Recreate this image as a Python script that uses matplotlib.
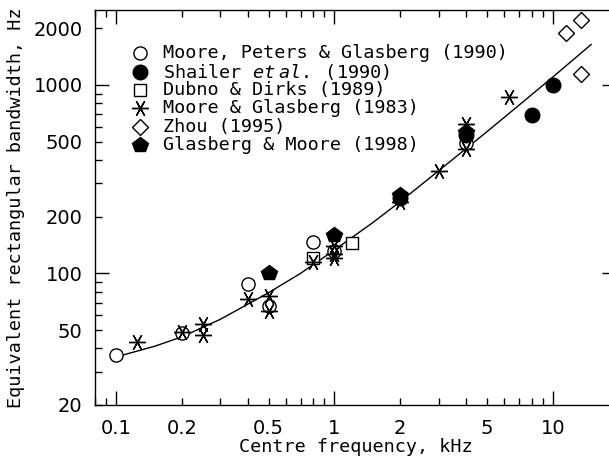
#!/usr/bin/env python3

import matplotlib
matplotlib.use('Agg')
import matplotlib.pyplot as plt
import matplotlib.ticker as mtick

# Equivalent rectangular bandwidth of the auditory filter vs centre frequency.
# Values (kHz, Hz).

mpg_f   = [0.1, 0.2, 0.4, 0.5, 0.8, 1.0, 4.0]          # Moore, Peters & Glasberg (1990)
mpg_erb = [37, 48, 88, 67, 147, 132, 490]

shl_f   = [2.0, 4.0, 8.0, 10.0]                        # Shailer et al. (1990)
shl_erb = [250, 540, 690, 1000]

dd_f    = [0.8, 1.2]                                   # Dubno & Dirks (1989)
dd_erb  = [121, 145]

mg_f    = [0.125, 0.2, 0.25, 0.25, 0.4, 0.5, 0.5, 0.8, 1.0, 1.0, 1.0, 2.0, 3.0, 4.0, 4.0, 6.3]
mg_erb  = [43, 49, 54, 47, 73, 76, 63, 115, 140, 127, 121, 240, 350, 620, 455, 860]

zh_f    = [11.5, 13.5, 13.5]                           # Zhou (1995)
zh_erb  = [1880, 2200, 1150]

gm_f    = [0.5, 1.0, 2.0, 4.0]                         # Glasberg & Moore (1998)
gm_erb  = [101, 160, 260, 560]

# fitted curve, read at a few frequencies
fit_f   = [0.1, 0.15, 0.2, 0.3, 0.5, 0.7, 1.0, 1.5, 2.0, 3.0, 5.0, 7.0, 10.0, 15.0]
fit_erb = [36, 41, 46, 57, 79, 100, 133, 186, 240, 350, 565, 780, 1100, 1640]

labels = [
    'Moore, Peters & Glasberg (1990)',
    r'Shailer $\mathit{et\ al.}$ (1990)',
    'Dubno & Dirks (1989)',
    'Moore & Glasberg (1983)',
    'Zhou (1995)',
    'Glasberg & Moore (1998)',
]

MONO = 'DejaVu Sans Mono'
plt.rcParams['mathtext.fontset'] = 'custom'
plt.rcParams['mathtext.rm'] = MONO
plt.rcParams['mathtext.it'] = MONO + ':italic'

W, H = 609, 467
fig = plt.figure(figsize=(W / 100, H / 100), dpi=100)
ax = fig.add_axes([95 / W, 62 / H, (616 - 95) / W, (405 - 10) / H])

ax.plot(fit_f, fit_erb, color='black', lw=1.0, zorder=2)

STAR = (6, 2, 90)
styles = [
    dict(marker='o', ms=9.5, mfc='white', mec='black', mew=1.0),
    dict(marker='o', ms=10.5, mfc='black', mec='black', mew=1.0),
    dict(marker='s', ms=8.5, mfc='white', mec='black', mew=1.0),
    dict(marker=STAR, ms=12, mfc='black', mec='black', mew=1.0),
    dict(marker='D', ms=8.5, mfc='white', mec='black', mew=1.0),
    dict(marker='p', ms=11.5, mfc='black', mec='black', mew=1.0),
]
series = [(mpg_f, mpg_erb), (shl_f, shl_erb), (dd_f, dd_erb),
          (mg_f, mg_erb), (zh_f, zh_erb), (gm_f, gm_erb)]

for (xs, ys), st in zip(series, styles):
    ax.plot(xs, ys, ls='none', zorder=3, clip_on=False, **st)

ax.set_xscale('log')
ax.set_yscale('log')
ax.set_xlim(0.08, 19.5)
ax.set_ylim(20, 2500)

def lab(v, pos):
    # only label the 1, 2, 5 steps of each decade
    s = '%g' % v
    digits = s.replace('0', '').replace('.', '')
    return s if digits in ('1', '2', '5') else ''

for axis in (ax.xaxis, ax.yaxis):
    axis.set_major_locator(mtick.LogLocator(base=10))
    axis.set_minor_locator(mtick.LogLocator(base=10, subs=range(2, 10)))
    axis.set_major_formatter(mtick.FuncFormatter(lab))
    axis.set_minor_formatter(mtick.FuncFormatter(lab))

ax.tick_params(which='both', direction='in', top=True, right=True, width=1.0,
               labelsize=14, labelfontfamily='DejaVu Sans')
ax.tick_params(which='major', length=10)
ax.tick_params(which='minor', length=5)
ax.tick_params(axis='x', which='both', pad=10)
ax.tick_params(axis='y', which='both', pad=9)
for sp in ax.spines.values():
    sp.set_linewidth(1.0)

ax.set_xlabel('Centre frequency, kHz', fontsize=13.3, family=MONO, labelpad=0)
ax.set_ylabel('Equivalent rectangular bandwidth, Hz', fontsize=13.3, family=MONO, labelpad=6)

# legend, drawn by hand to get the tight row spacing
rows = [53.3, 71.7, 90, 108.3, 126.7, 145]
for y, st, text in zip(rows, styles, labels):
    fig.lines.append(plt.Line2D([140 / W], [1 - y / H], transform=fig.transFigure,
                                ls='none', **st))
    fig.text(163 / W, 1 - y / H, text, fontsize=13.3, family=MONO, va='center')

fig.savefig('out.png', dpi=100)
